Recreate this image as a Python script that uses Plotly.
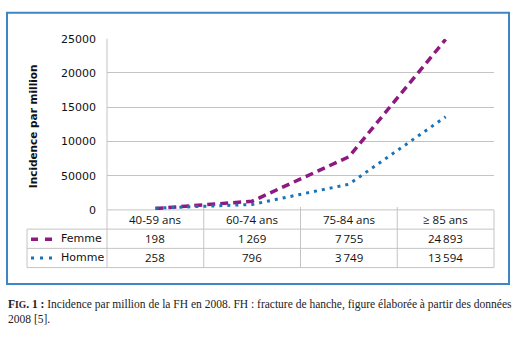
import plotly.graph_objects as go

categories = ["40-59 ans", "60-74 ans", "75-84 ans", "\u2265 85 ans"]
femme = [198, 1269, 7755, 24893]
homme = [258, 796, 3749, 13594]
series_names = ["Femme", "Homme"]
ytick_vals = [0, 5000, 10000, 15000, 20000, 25000]
ytick_text = ["0", "50000", "10000", "15000", "20000", "25000"]
y_title = "Incidence par million"
caption = ("<b>F<span style='font-size:9.5px'>IG</span>. 1 :</b> Incidence par million de la FH en 2008. "
           "FH : fracture de hanche, figure élaborée à partir des données<br>2008 [5].")

W, H = 516, 340
PURPLE = "#8c1a80"
BLUE = "#1a73b8"
GRID = "#c4c4c4"
FRAME = "#3d86c4"

def px(x):
    return x / W

def py(y):
    return 1 - y / H

PL, PR, PT, PB = 107, 494, 34, 212
ROW1, ROW2, ROW3 = 232, 252, 272
LEG_L = 27

xs = list(range(len(categories)))

fig = go.Figure()
fig.add_trace(go.Scatter(x=xs, y=femme, mode="lines", name=series_names[0],
                         line=dict(color=PURPLE, width=3.5, dash="8px,5px")))
fig.add_trace(go.Scatter(x=xs, y=homme, mode="lines", name=series_names[1],
                         line=dict(color=BLUE, width=3, dash="3px,5px")))

shapes = []
# outer frame
shapes.append(dict(type="rect", xref="paper", yref="paper", x0=px(7), x1=px(509), y0=py(289), y1=py(7),
                   line=dict(color=FRAME, width=2)))
# table horizontal lines
for yy, x0 in [(PB, PL), (ROW1, LEG_L), (ROW2, LEG_L), (ROW3, LEG_L)]:
    shapes.append(dict(type="line", xref="paper", yref="paper", x0=px(x0), x1=px(PR), y0=py(yy), y1=py(yy),
                       line=dict(color=GRID, width=1), layer="below"))
# table vertical lines
shapes.append(dict(type="line", xref="paper", yref="paper", x0=px(PL), x1=px(PL), y0=py(PT), y1=py(ROW3),
                   line=dict(color=GRID, width=1), layer="below"))
shapes.append(dict(type="line", xref="paper", yref="paper", x0=px(PR), x1=px(PR), y0=py(PB), y1=py(ROW3),
                   line=dict(color=GRID, width=1), layer="below"))
shapes.append(dict(type="line", xref="paper", yref="paper", x0=px(LEG_L), x1=px(LEG_L), y0=py(ROW1), y1=py(ROW3),
                   line=dict(color=GRID, width=1), layer="below"))
for i in range(len(categories) - 1):
    shapes.append(dict(type="line", xref="x", yref="paper", x0=i + 0.5, x1=i + 0.5, y0=py(ROW3), y1=py(PB - 3),
                       line=dict(color=GRID, width=1), layer="below"))
# legend swatches
shapes.append(dict(type="line", xref="paper", yref="paper", x0=px(31), x1=px(54), y0=py(242.5), y1=py(242.5),
                   line=dict(color=PURPLE, width=3.5, dash="7px,7px")))
shapes.append(dict(type="line", xref="paper", yref="paper", x0=px(31), x1=px(54), y0=py(262), y1=py(262),
                   line=dict(color=BLUE, width=3, dash="3px,6px")))

annotations = []
tfont = dict(family="Open Sans, Lato, sans-serif", size=11.5, color="#111")
for i, c in enumerate(categories):
    annotations.append(dict(x=i, xref="x", y=py(222), yref="paper", text=c, showarrow=False,
                            font=tfont, xanchor="center", yanchor="middle"))
    for vals, yy in [(femme, 242), (homme, 262)]:
        annotations.append(dict(x=i, xref="x", y=py(yy), yref="paper",
                                text=f"{vals[i]:,}".replace(",", "\u2009"), showarrow=False,
                                font=tfont, xanchor="center", yanchor="middle"))
lfont = dict(family="DejaVu Sans, sans-serif", size=11, color="#111")
annotations.append(dict(x=px(59), y=py(242), xref="paper", yref="paper", text=series_names[0], showarrow=False,
                        font=lfont, xanchor="left", yanchor="middle"))
annotations.append(dict(x=px(59), y=py(262), xref="paper", yref="paper", text=series_names[1], showarrow=False,
                        font=lfont, xanchor="left", yanchor="middle"))
annotations.append(dict(x=px(33), y=py(125), xref="paper", yref="paper", text=f"<b>{y_title}</b>",
                        showarrow=False, textangle=-90,
                        font=dict(family="DejaVu Sans, sans-serif", size=10.5, color="#111"),
                        xanchor="center", yanchor="middle"))
annotations.append(dict(x=px(6), y=py(302), xref="paper", yref="paper", text=caption, showarrow=False,
                        align="left", xanchor="left", yanchor="top",
                        font=dict(family="Liberation Serif, serif", size=11.5, color="#222")))

fig.update_layout(
    width=W, height=H, margin=dict(l=0, r=0, t=0, b=0),
    paper_bgcolor="white", plot_bgcolor="white", showlegend=False,
    xaxis=dict(domain=[px(PL), px(PR)], range=[-0.5, len(categories) - 0.5], showticklabels=False,
               showgrid=False, zeroline=False, showline=False, fixedrange=True),
    yaxis=dict(domain=[py(PB), py(PT)], range=[0, 25000], tickvals=ytick_vals, ticktext=ytick_text,
               showgrid=True, gridcolor=GRID, gridwidth=1, zeroline=False, showline=False,
               ticks="", ticklabelstandoff=10,
               tickfont=dict(family="DejaVu Sans, sans-serif", size=11, color="#111")),
    shapes=shapes, annotations=annotations,
)

fig.write_html("out.html")
